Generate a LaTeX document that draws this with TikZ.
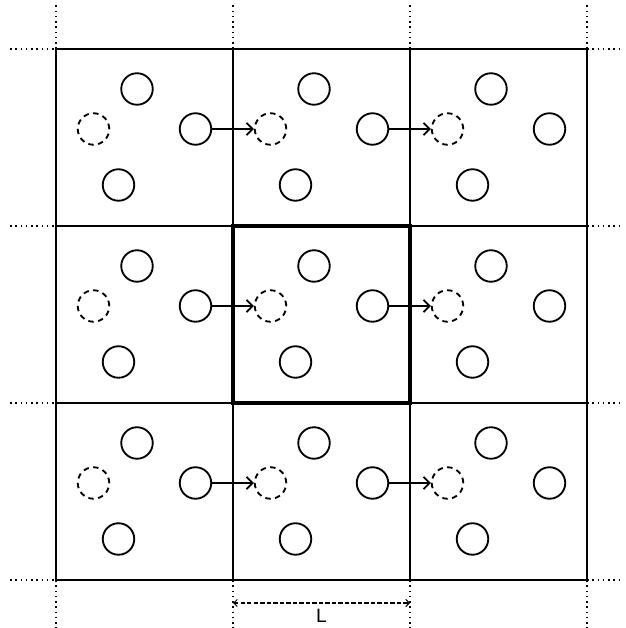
\documentclass[tikz,border=0pt]{standalone}
\usepackage{fontspec}
\setsansfont{Liberation Sans}
\usetikzlibrary{positioning,arrows.meta,calc}

\begin{document}
\begin{tikzpicture}[
  cell/.style={line width=1.05pt},
  simbox/.style={line width=2.2pt},
  ext/.style={line width=0.9pt, dash pattern=on 0.9pt off 2.1pt},
  part/.style={circle, draw, line width=1.05pt, minimum size=0.63cm, inner sep=0pt},
  ghost/.style={part, dash pattern=on 3.1pt off 2.5pt},
  hop/.style={line width=1pt, -{Straight Barb[length=3.5pt,width=7pt]}},
  dim/.style={line width=0.6pt, dash pattern=on 2.4pt off 1.3pt,
              {Straight Barb[length=2pt,width=4pt]}-{Straight Barb[length=2pt,width=4pt]}},
]
\useasboundingbox (-1.12,-0.96) rectangle (11.38,11.6);

% periodic images
\foreach \k in {0,1,2,3} {
  \draw[cell] (\k*3.54,0) -- (\k*3.54,10.62);
  \draw[cell] (0,\k*3.54) -- (10.62,\k*3.54);
  \draw[ext] (\k*3.54,10.62) -- (\k*3.54,11.52);
  \draw[ext] (\k*3.54,0) -- (\k*3.54,-0.96);
  \draw[ext] (-0.92,\k*3.54) -- (0,\k*3.54);
  \draw[ext] (10.62,\k*3.54) -- (11.32,\k*3.54);
}
\draw[simbox] (3.54,3.54) rectangle (7.08,7.08);

% particles
\foreach \i in {0,1,2} {
  \foreach \j in {0,1,2} {
    \node[part]  (up-\i-\j) at (\i*3.54+1.62, \j*3.54+2.74) {};
    \node[ghost] (gh-\i-\j) at (\i*3.54+0.75, \j*3.54+1.94) {};
    \node[part]  (rt-\i-\j) at (\i*3.54+2.79, \j*3.54+1.94) {};
    \node[part]  (lo-\i-\j) at (\i*3.54+1.25, \j*3.54+0.82) {};
  }
}
\foreach \i/\k in {0/1,1/2} {
  \foreach \j in {0,1,2}
    \draw[hop] (rt-\i-\j) -- (gh-\k-\j);
}

% box length
\coordinate (dimL) at (3.54,-0.46);
\coordinate (dimR) at (7.08,-0.46);
\draw[dim] (dimL) -- (dimR);
\node[font=\sffamily\fontsize{11}{13}\selectfont] (len) at ($(dimL)!0.5!(dimR)+(0,-0.26)$) {L};
\end{tikzpicture}
\end{document}
